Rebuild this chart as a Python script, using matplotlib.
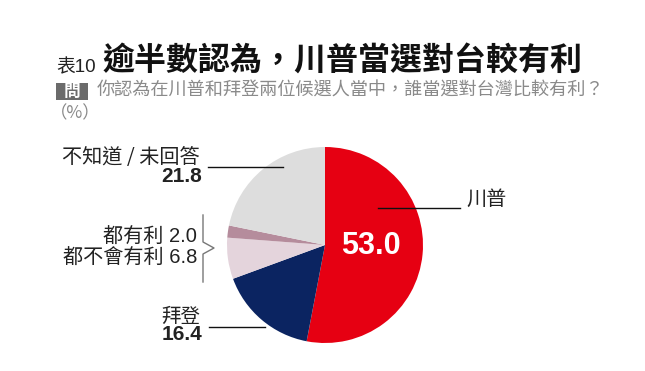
import matplotlib
matplotlib.use("Agg")
import matplotlib.pyplot as plt
from matplotlib.patches import Rectangle

plt.rcParams['font.family'] = ['Noto Sans CJK TC', 'DejaVu Sans']

categories = ['川普', '拜登', '都不會有利', '都有利', '不知道 / 未回答']
values = [53.0, 16.4, 6.8, 2.0, 21.8]
colors = ['#e60012', '#0b2461', '#e4d4dc', '#b58c9c', '#dddddd']

title_prefix = '表10'
title = '逾半數認為，川普當選對台較有利'
question_tag = '問'
question = '你認為在川普和拜登兩位候選人當中，誰當選對台灣比較有利？'
unit = '（%）'

W, H = 645, 371
fig = plt.figure(figsize=(W / 100, H / 100), dpi=100)
fig.patch.set_facecolor('white')

# overlay axes in pixel coordinates
ov = fig.add_axes([0, 0, 1, 1])
ov.set_xlim(0, W)
ov.set_ylim(H, 0)
ov.axis('off')

# pie axes
cx, cy, r = 325, 245, 98
pa = fig.add_axes([(cx - r) / W, (H - cy - r) / H, 2 * r / W, 2 * r / H])
pa.pie(values, colors=colors, startangle=90, counterclock=False, radius=1,
       wedgeprops=dict(linewidth=0))
pa.set_xlim(-1, 1)
pa.set_ylim(-1, 1)
pa.axis('off')
pa.set_zorder(0)
ov.set_zorder(1)
ov.patch.set_alpha(0)

num_font = ['Liberation Sans', 'Noto Sans CJK TC']
dark = '#222222'

# Titles
ov.text(56, 72, title_prefix, fontsize=13.5, color=dark, ha='left', va='baseline',
        family=['Liberation Sans', 'Noto Sans CJK TC'])
ov.text(103, 70, title, fontsize=23, fontweight='bold', color='#111111',
        ha='left', va='baseline')
ov.add_patch(Rectangle((56, 83), 32, 17, facecolor='#6b6b6b', edgecolor='none'))
ov.text(72, 91.5, question_tag, fontsize=12, color='white', ha='center',
        va='center', fontweight='bold')
ov.text(97, 91, question, fontsize=13.1, color='#8a8a8a', ha='left', va='center')
ov.text(50, 113, unit, fontsize=12.5, color='#8a8a8a', ha='left', va='center')

# labels
ov.text(200, 157, categories[4], fontsize=14.5, color=dark, ha='right', va='center')
ov.text(202, 177, f'{values[4]:.1f}', fontsize=15, color=dark, ha='right',
        va='center', fontweight='bold', family=num_font)
ov.plot([208, 283], [167, 167], color='#111111', lw=1)

ov.text(197, 237.5, f'{categories[3]} {values[3]:.1f}', fontsize=14.5, color=dark,
        ha='right', va='center', family=num_font)
ov.text(197, 258.5, f'{categories[2]} {values[2]:.1f}', fontsize=14.5, color=dark,
        ha='right', va='center', family=num_font)
ov.plot([203, 203, 214, 203, 203], [215, 242, 248, 254, 282], color='#777777', lw=1)

ov.text(200, 316, categories[1], fontsize=14, color=dark, ha='right', va='center')
ov.text(202, 335, f'{values[1]:.1f}', fontsize=15, color=dark, ha='right',
        va='center', fontweight='bold', family=num_font)
ov.plot([209, 265], [327, 327], color='#111111', lw=1)

ov.text(466, 199, categories[0], fontsize=14.5, color=dark, ha='left', va='center')
ov.plot([378, 460], [208, 208], color='#111111', lw=1)

ov.text(371, 246, f'{values[0]:.1f}', fontsize=22, color='white', ha='center',
        va='center', fontweight='bold', family=num_font)

fig.savefig('out.png', dpi=100, facecolor='white')
